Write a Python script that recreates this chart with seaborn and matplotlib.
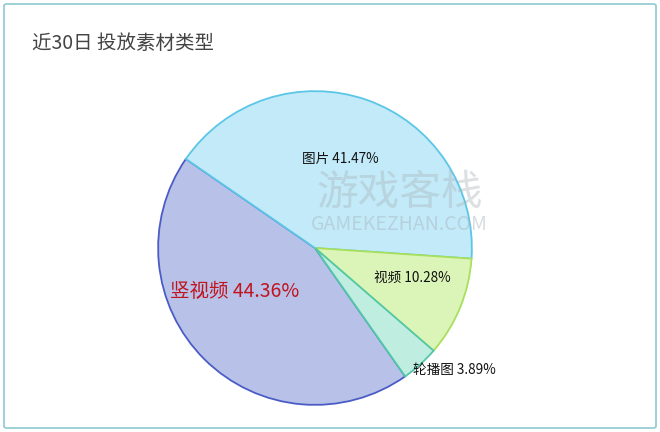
import matplotlib.pyplot as plt
import matplotlib.patches as mpatches
import seaborn as sns

# data
categories = ['图片', '视频', '轮播图', '竖视频']
shares = [41.47, 10.28, 3.89, 44.36]

# styles
fills = ['#c2eaf9', '#dbf5b9', '#bfeee0', '#b8c1e8']
edges = ['#5cc6e6', '#a8df5c', '#52c8a8', '#4b5cc6']
zorders = [2, 3, 4, 1]
label_pos = [(0.16, 0.565), (0.62, -0.19), (0.89, -0.78), (-0.51, -0.275)]

sns.set_style('white')
plt.rcParams['font.family'] = ['Noto Sans CJK SC', 'DejaVu Sans']

fig = plt.figure(figsize=(6.6, 4.32), dpi=100)
fig.patch.set_facecolor('white')

# outer frame
frame = mpatches.FancyBboxPatch((4 / 660, 4 / 432), 652 / 660, 424 / 432,
                                boxstyle='round,pad=0,rounding_size=0.004',
                                transform=fig.transFigure, fill=False,
                                edgecolor='#8ec9d2', linewidth=1.2)
fig.patches.append(frame)

fig.text(32 / 660, 1 - 43 / 432, '近30日 投放素材类型', fontsize=14,
         color='#444444', va='center', ha='left')

ax = fig.add_axes([(315 - 160) / 660, (432 - 248 - 160) / 432, 320 / 660, 320 / 432])
wedges, _ = ax.pie(shares, colors=fills, startangle=145.4, counterclock=False,
                   radius=1, wedgeprops=dict(linewidth=1.3))
for w, ec, z in zip(wedges, edges, zorders):
    w.set_edgecolor(ec)
    w.set_zorder(z)
ax.set_xlim(-1.02, 1.02)
ax.set_ylim(-1.02, 1.02)
ax.set_aspect('equal')
ax.axis('off')

# watermark
ax.text(0.54, 0.35, '游戏客栈', fontsize=30, color='#a9b3b9', alpha=0.4,
        ha='center', va='center', zorder=6)
ax.text(0.54, 0.15, 'GAMEKEZHAN.COM', fontsize=14, color='#a9b3b9', alpha=0.45,
        ha='center', va='center', zorder=6)

for name, val, (x, y) in zip(categories, shares, label_pos):
    if name == '竖视频':
        ax.text(x, y, f'{name} {val:.2f}%', fontsize=14, color='#c0141e',
                ha='center', va='center', zorder=7)
    else:
        ax.text(x, y, f'{name} {val:.2f}%', fontsize=9.8, color='#111111',
                ha='center', va='center', zorder=7)

fig.savefig('out.png', dpi=100)
